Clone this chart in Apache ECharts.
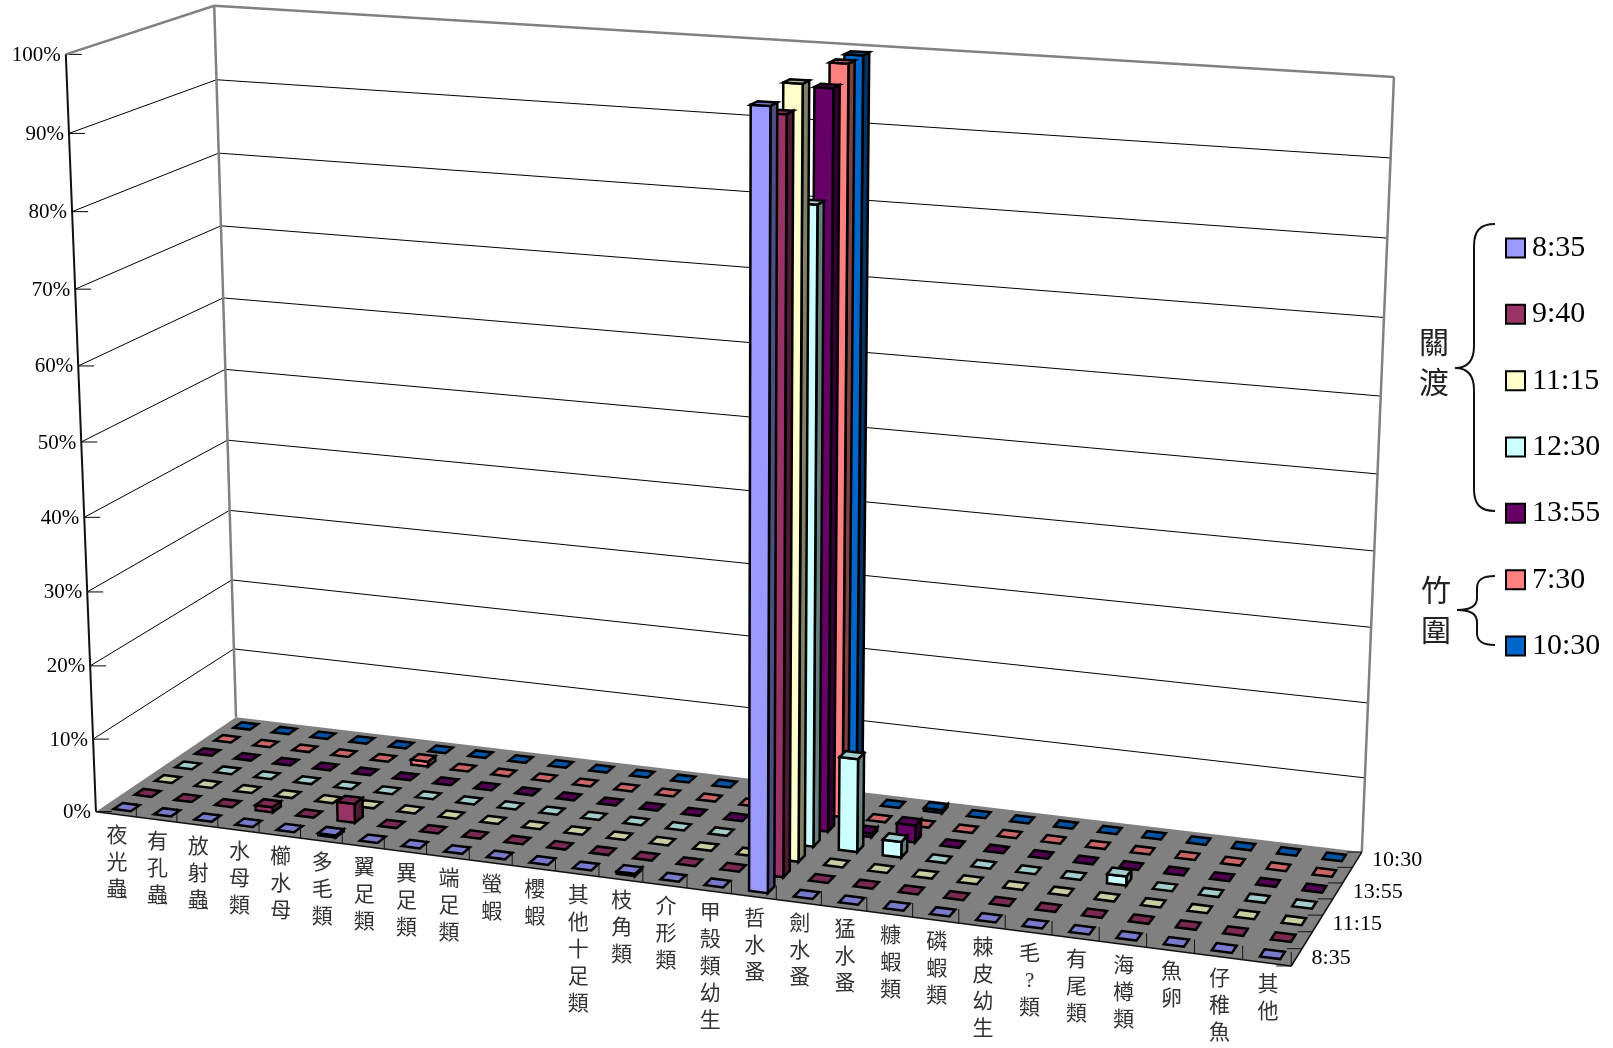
<!DOCTYPE html>
<html>
<head>
<meta charset="utf-8">
<style>html,body{margin:0;padding:0;background:#fff}#chart{width:1613px;height:1048px}</style>
<script src="https://cdn.jsdelivr.net/npm/echarts@6/dist/echarts.min.js"></script>
</head>
<body>
<div id="chart"></div>
<script>
// Plankton composition by sampling time, shown as a perspective 3D column chart.
const categories = ['夜光蟲','有孔蟲','放射蟲','水母類','櫛水母','多毛類','翼足類','異足類','端足類','螢蝦','櫻蝦','其他十足類','枝角類','介形類','甲殼類幼生','哲水蚤','劍水蚤','猛水蚤','糠蝦類','磷蝦類','棘皮幼生','毛?類','有尾類','海樽類','魚卵','仔稚魚','其他'];
const timeLabels = ['8:35','9:40','11:15','12:30','13:55','7:30','10:30'];
const depthTickLabels = ['8:35','','11:15','','13:55','','10:30'];
const percentTicks = [0,10,20,30,40,50,60,70,80,90,100];

const values0835 = [0,0,0,0,0,0.3,0,0,0,0,0,0,0.3,0,0,99,0,0,0,0,0,0,0,0,0,0,0];
const values0940 = [0,0,0,0.7,0,2.6,0,0,0,0,0,0,0,0,0,97,0,0,0,0,0,0,0,0,0,0,0];
const values1115 = [0,0,0,0,0,0,0,0,0,0,0,0,0,0,0,99.7,0,0,0,0,0,0,0,0,0,0,0];
const values1230 = [0,0,0,0,0,0,0,0,0,0,0,0,0,0,0,83.7,12.5,2.1,0,0,0,0,1.2,0,0,0,0];
const values1355 = [0,0,0,0,0,0,0,0,0,0,0,0,0,0,0,97.2,0.5,2.3,0,0,0,0,0,0,0,0,0];
const values0730 = [0,0,0,0,0,0.7,0,0,0,0,0,0,0,0,0,99.3,0,0,0,0,0,0,0,0,0,0,0];
const values1030 = [0,0,0,0,0,0,0,0,0,0,0,0,0,0,0,99.4,0,0.4,0,0,0,0,0,0,0,0,0];

const seriesValues = [values0835,values0940,values1115,values1230,values1355,values0730,values1030];
const seriesColors = ['#9999FF','#993366','#FFFFCC','#CCFFFF','#660066','#FF8080','#0066CC'];

// Camera: the chart box (u along categories, v in depth, t up) is placed by a
// projective transform fitted to where its corners sit on the page.
const boxCorners = [
  [0,0,0,  96,812],[0,1,0, 236,717],[1,0,0,1291,966],[1,1,0,1362,852],
  [0,0,1,  66, 54],[0,1,1, 214,  6],[1,1,1,1394, 77]
];
function solveCamera(pts){
  const A=[],b=[];
  pts.forEach(p=>{
    const [u,v,t,x,y]=[p[0],p[1],p[2],p[3]/1000,p[4]/1000];
    A.push([u,v,t,1,0,0,0,0,-x*u,-x*v,-x*t]); b.push(x);
    A.push([0,0,0,0,u,v,t,1,-y*u,-y*v,-y*t]); b.push(y);
  });
  const n=11,M=[];
  for(let r=0;r<n;r++){
    M.push([]);
    for(let c=0;c<n;c++){let s=0;A.forEach(row=>s+=row[r]*row[c]);M[r].push(s);}
    let s=0;A.forEach((row,k)=>s+=row[r]*b[k]);M[r].push(s);
  }
  for(let c=0;c<n;c++){
    let p=c;for(let r=c+1;r<n;r++)if(Math.abs(M[r][c])>Math.abs(M[p][c]))p=r;
    [M[c],M[p]]=[M[p],M[c]];
    for(let r=0;r<n;r++){if(r===c)continue;const f=M[r][c]/M[c][c];for(let k=c;k<=n;k++)M[r][k]-=f*M[c][k];}
  }
  return M.map((row,i)=>row[n]/row[i]);
}
const cam=solveCamera(boxCorners);
function project(u,v,t){
  const w=cam[8]*u+cam[9]*v+cam[10]*t+1;
  return [1000*(cam[0]*u+cam[1]*v+cam[2]*t+cam[3])/w,1000*(cam[4]*u+cam[5]*v+cam[6]*t+cam[7])/w];
}

const SERIF="'Liberation Serif','Noto Sans CJK TC'";
const COLUMN_FILL=0.42, ROW_FILL=0.42;

function shade(hex,k){
  const n=parseInt(hex.slice(1),16);
  const c=[n>>16&255,n>>8&255,n&255].map(x=>Math.round(x*k));
  return 'rgb('+c.join(',')+')';
}
function poly(points,fill,stroke,width){
  return {type:'polygon',silent:true,shape:{points},style:{fill,stroke,lineWidth:width,lineJoin:'miter'}};
}
function line(a,b,stroke,width){
  return {type:'line',silent:true,shape:{x1:a[0],y1:a[1],x2:b[0],y2:b[1]},style:{stroke,lineWidth:width,fill:null}};
}
function label(text,x,y,size,align,vAlign,lh,fill){
  return {type:'text',silent:true,style:{text,x,y,fontSize:size,fontFamily:SERIF,textAlign:align,textVerticalAlign:vAlign,lineHeight:lh,fill:fill||'#000'}};
}

// One column: front, right and top faces, read from the hidden category/value axes.
function renderColumn(row){
  return function(params,api){
    const sys=params.coordSys;
    const c=api.coord([api.value(0),api.value(1)]);
    const u=(c[0]-sys.x)/sys.width;
    const t=(sys.y+sys.height-c[1])/sys.height;
    const halfU=COLUMN_FILL/categories.length/2;
    const halfV=ROW_FILL/timeLabels.length/2;
    const v=(row+0.5)/timeLabels.length;
    const u0=u-halfU,u1=u+halfU,v0=v-halfV,v1=v+halfV;
    const col=seriesColors[row];
    const front=[project(u0,v0,0),project(u1,v0,0),project(u1,v0,t),project(u0,v0,t)];
    const right=[project(u1,v0,0),project(u1,v1,0),project(u1,v1,t),project(u1,v0,t)];
    const top=[project(u0,v0,t),project(u1,v0,t),project(u1,v1,t),project(u0,v1,t)];
    const kids=[];
    if(t>0){
      kids.push(poly(right,shade(col,0.5),'#000',2.5));
      kids.push(poly(front,col,'#000',2.5));
    }
    kids.push(poly(top,shade(col,0.8),'#000',2.5));
    return {type:'group',children:kids};
  };
}

// Walls, floor, gridlines, ticks and every axis label.
function renderFrame(params,api){
  const kids=[];
  const nC=categories.length,nR=timeLabels.length;
  kids.push(poly([project(0,0,0),project(0,1,0),project(1,1,0),project(1,0,0)],'#808080',null,0));
  percentTicks.forEach(p=>{
    const t=api.coord([0,p])[1];
    const tt=(params.coordSys.y+params.coordSys.height-t)/params.coordSys.height;
    const a=project(0,0,tt),b=project(0,1,tt),d=project(1,1,tt);
    if(p>0&&p<100){
      kids.push(line(a,b,'#000',1));
      kids.push(line(b,d,'#000',1));
    }
    kids.push(line(a,[a[0]+16,a[1]],'#000',1));
    kids.push(label(p+'%',a[0]-5,a[1]+1,21,'right','middle',21));
  });
  kids.push(line(project(0,0,1),project(0,1,1),'#808080',2.5));
  kids.push(line(project(0,1,1),project(1,1,1),'#808080',2.5));
  kids.push(line(project(0,1,0),project(0,1,1),'#808080',2.5));
  kids.push(line(project(1,1,0),project(1,1,1),'#808080',2.5));
  kids.push(line(project(0,0,0),project(0,0,1),'#111',2));
  kids.push(line(project(0,0,0),project(1,0,0),'#111',1.5));
  kids.push(line(project(1,0,0),project(1,1,0),'#111',1.5));
  for(let i=1;i<=nC;i++){
    const p=project(i/nC,0,0);
    kids.push(line(p,[p[0],p[1]-14],'#111',1));
  }
  for(let r=0;r<=nR;r++){
    const p=project(1,r/nR,0);
    kids.push(line(p,[p[0]-15,p[1]],'#111',1));
  }
  categories.forEach((name,i)=>{
    const p=project((i+0.5)/nC,0,0);
    kids.push(label(name.split('').join('\n'),p[0]+1,p[1]+9,21,'center','top',27,'#333'));
  });
  depthTickLabels.forEach((name,r)=>{
    if(!name)return;
    const p=project(1,(r+0.5)/nR,0);
    kids.push(label(name,p[0]+15,p[1]+1,22,'left','middle',22));
  });
  return {type:'group',children:kids};
}

const axisGroups=[
  {text:'關\n渡',x:1434,y:365,size:30,lh:40},
  {text:'竹\n圍',x:1436,y:613,size:30,lh:40}
];
// Curly braces beside the legend, each made of curve and straight segments.
function braceSegments(tipX,spineX,endX,topY,midY,botY,r){
  const curve=(x1,y1,cx1,cy1,cx2,cy2,x2,y2)=>({type:'bezierCurve',silent:true,z:30,
    shape:{x1,y1,cpx1:cx1,cpy1:cy1,cpx2:cx2,cpy2:cy2,x2,y2},style:{fill:null,stroke:'#111',lineWidth:2}});
  const straight=(x1,y1,x2,y2)=>({type:'line',silent:true,z:30,shape:{x1,y1,x2,y2},style:{stroke:'#111',lineWidth:2}});
  return [
    curve(endX,topY,spineX+(endX-spineX)*0.3,topY,spineX,topY+r*0.3,spineX,topY+r),
    straight(spineX,topY+r,spineX,midY-r),
    curve(spineX,midY-r,spineX,midY-r*0.3,spineX-(spineX-tipX)*0.4,midY,tipX,midY),
    curve(tipX,midY,spineX-(spineX-tipX)*0.4,midY,spineX,midY+r*0.3,spineX,midY+r),
    straight(spineX,midY+r,spineX,botY-r),
    curve(spineX,botY-r,spineX,botY-r*0.3,spineX+(endX-spineX)*0.3,botY,endX,botY)
  ];
}

const series=[{
  type:'custom',name:'frame',coordinateSystem:'cartesian2d',z:1,silent:true,clip:false,
  data:[[0,0]],renderItem:renderFrame
}];
timeLabels.forEach((name,row)=>{
  series.push({
    type:'custom',name,coordinateSystem:'cartesian2d',z:20-row,silent:true,clip:false,
    itemStyle:{color:seriesColors[row]},
    encode:{x:0,y:1},
    data:seriesValues[row].map((v,i)=>[i,v]),
    renderItem:renderColumn(row)
  });
});

const chart=echarts.init(document.getElementById('chart'),null,{renderer:'canvas'});
chart.setOption({
  animation:false,
  backgroundColor:'#fff',
  tooltip:{show:false},
  grid:{left:0,right:0,top:0,bottom:0},
  xAxis:{type:'category',data:categories,show:false},
  yAxis:{type:'value',min:0,max:100,interval:10,show:false},
  legend:{
    data:timeLabels,orient:'vertical',left:1505,top:229.5,padding:0,
    icon:'rect',itemWidth:19,itemHeight:19,itemGap:29.33,selectedMode:false,
    itemStyle:{borderColor:'#000',borderWidth:2},
    textStyle:{fontFamily:SERIF,fontSize:30,color:'#000',lineHeight:34,padding:[3,0,0,2]}
  },
  graphic:[
    ...braceSegments(1455,1474,1495,224,368,511,22),
    ...braceSegments(1457,1477,1495,576,610,645,12),
    ...axisGroups.map(g=>({type:'text',silent:true,x:g.x,y:g.y,z:30,style:{text:g.text,fontFamily:SERIF,fontSize:g.size,lineHeight:g.lh,align:'center',verticalAlign:'middle',fill:'#222'}}))
  ],
  series
});
</script>
</body>
</html>
